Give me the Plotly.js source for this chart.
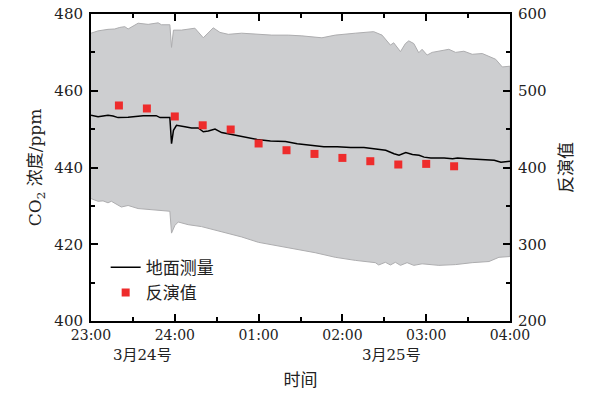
<!DOCTYPE html>
<html>
<head>
<meta charset="utf-8">
<script src="https://cdn.plot.ly/plotly-3.0.1.min.js"></script>
<style>html,body{margin:0;padding:0;background:#fff;}#chart{width:593px;height:394px;}</style>
</head>
<body>
<div id="chart"></div>
<script>
// time in hours after 23:00 (3月24号)
var groundTime = [0.0,0.084,0.144,0.203,0.263,0.323,0.443,0.622,0.778,0.825,0.941,0.961,0.984,1.020,1.121,1.200,1.280,1.340,1.400,1.480,1.559,1.678,1.822,1.982,2.141,2.321,2.461,2.620,2.779,2.939,3.098,3.257,3.397,3.517,3.616,3.676,3.756,3.836,3.915,3.975,4.055,4.214,4.315,4.374,4.494,4.693,4.812,4.892,5.0];
var groundCO2 = [453.6,453.2,453.4,453.6,453.4,453.0,453.1,453.5,453.5,453.0,453.0,446.2,449.7,451.0,450.6,450.3,450.3,449.3,449.5,450.0,449.1,448.6,448.1,447.3,446.9,446.8,446.2,445.8,445.4,445.4,445.2,445.2,444.9,444.5,443.6,443.2,443.9,443.4,443.2,442.7,442.5,442.5,442.3,442.5,442.3,442.1,441.9,441.4,441.6];

var bandUpperTime = [0.0,0.084,0.203,0.283,0.343,0.403,0.443,0.562,0.682,0.801,0.841,0.941,0.961,0.984,1.080,1.181,1.240,1.340,1.459,1.539,1.639,1.798,1.958,2.157,2.356,2.516,2.755,2.915,3.154,3.373,3.473,3.573,3.612,3.693,3.752,3.792,3.852,3.911,3.951,4.011,4.071,4.270,4.351,4.450,4.549,4.669,4.829,4.908,5.0];
var bandUpper = [475.0,475.6,476.0,476.1,476.5,476.7,476.1,477.6,477.3,477.7,477.2,477.2,471.3,475.8,475.8,476.0,476.3,473.8,476.4,475.2,474.7,475.0,474.8,474.5,474.5,474.3,473.8,474.5,475.0,475.4,474.5,471.9,472.5,470.2,472.3,473.0,472.3,469.9,470.8,469.3,470.0,470.8,470.0,470.3,469.5,469.7,468.2,466.2,466.4];

var bandLowerTime = [0.0,0.084,0.144,0.203,0.243,0.362,0.443,0.562,0.721,0.941,0.961,1.001,1.041,1.160,1.319,1.559,1.798,1.998,2.197,2.436,2.675,2.915,3.154,3.393,3.433,3.513,3.573,3.632,3.693,3.772,3.852,3.951,4.151,4.351,4.549,4.749,4.868,5.0];
var bandLower = [431.9,431.2,431.3,430.8,431.2,429.7,430.1,429.3,429.1,428.6,422.9,424.9,425.8,425.1,424.6,423.2,421.9,420.5,419.7,418.8,417.8,416.6,415.8,415.2,414.6,415.3,414.6,415.3,414.5,415.2,414.5,414.9,414.5,414.7,415.2,415.5,416.6,416.8];

var invTime = [0.333,0.667,1.0,1.333,1.667,2.0,2.333,2.667,3.0,3.333,3.667,4.0,4.333];
var invValue = [480.8,476.9,466.5,455.0,449.5,431.3,422.5,417.7,412.5,408.2,403.9,404.7,401.6];

var xTickVals = [0,1,2,3,4,5];
var xTickText = ['23:00','24:00','01:00','02:00','03:00','04:00'];
var dateLabels = ['3月24号','3月25号'];
var dateLabelPos = [0.61,3.59];

var FONT = 'DejaVu Serif, "Noto Sans CJK SC", serif';

// closed polygon for the band
var bandX = bandUpperTime.concat(bandLowerTime.slice().reverse());
var bandY = bandUpper.concat(bandLower.slice().reverse());

var traces = [
  {x: bandX, y: bandY, type:'scatter', mode:'lines', fill:'toself',
   fillcolor:'#CDCED0', line:{color:'#ADADAF', width:1}, showlegend:false, hoverinfo:'skip'},
  {x: groundTime, y: groundCO2, type:'scatter', mode:'lines', name:'地面测量',
   line:{color:'#000', width:1.5}},
  {x: invTime, y: invValue, type:'scatter', mode:'markers', name:'反演值', yaxis:'y2',
   marker:{symbol:'square', size:8, color:'#EE2C2C'}}
];

var annotations = dateLabels.map(function(t,i){
  return {text:t, x:dateLabelPos[i], xref:'x', y:-0.11, yref:'paper', yanchor:'middle',
          showarrow:false, font:{family:FONT, size:15, color:'#222'}};
});

var layout = {
  width:593, height:394,
  margin:{l:91, r:83, t:14, b:73},
  paper_bgcolor:'#fff', plot_bgcolor:'#fff',
  font:{family:FONT, color:'#222'},
  showlegend:true,
  legend:{x:0.035, y:0.232, xanchor:'left', yanchor:'top', bgcolor:'rgba(0,0,0,0)',
          font:{family:FONT, size:17, color:'#222'}, tracegroupgap:0},
  xaxis:{range:[0,5], tickmode:'array', tickvals:xTickVals, ticktext:xTickText,
         ticks:'inside', ticklen:7, tickwidth:2, tickcolor:'#000',
         minor:{tickmode:'array', tickvals:[0.5,1.5,2.5,3.5,4.5], ticks:'inside', ticklen:4, tickwidth:2, tickcolor:'#000'},
         showline:true, linecolor:'#000', linewidth:2, mirror:'ticks', showgrid:false, zeroline:false,
         tickfont:{family:FONT, size:14, color:'#222'},
         title:{text:'时间', font:{family:FONT, size:17, color:'#222'}, standoff:32}},
  yaxis:{range:[400,480], dtick:20, ticks:'inside', ticklen:7, tickwidth:2, tickcolor:'#000',
         minor:{dtick:10, ticks:'inside', ticklen:4, tickwidth:2, tickcolor:'#000'},
         showline:true, linecolor:'#000', linewidth:2, showgrid:false, zeroline:false,
         ticklabelstandoff:3,
         tickfont:{family:FONT, size:15, color:'#222'},
         title:{text:'CO<sub>2</sub> 浓度/ppm', font:{family:FONT, size:17, color:'#222'}, standoff:8}},
  yaxis2:{range:[200,600], dtick:100, overlaying:'y', side:'right',
         ticks:'inside', ticklen:7, tickwidth:2, tickcolor:'#000',
         minor:{dtick:50, ticks:'inside', ticklen:4, tickwidth:2, tickcolor:'#000'},
         showline:true, linecolor:'#000', linewidth:2, showgrid:false, zeroline:false,
         ticklabelstandoff:3,
         tickfont:{family:FONT, size:15, color:'#222'},
         title:{text:'反演值', font:{family:FONT, size:17, color:'#222'}, standoff:14}},
  annotations: annotations
};

Plotly.newPlot('chart', traces, layout, {displayModeBar:false, staticPlot:true});
</script>
</body>
</html>
